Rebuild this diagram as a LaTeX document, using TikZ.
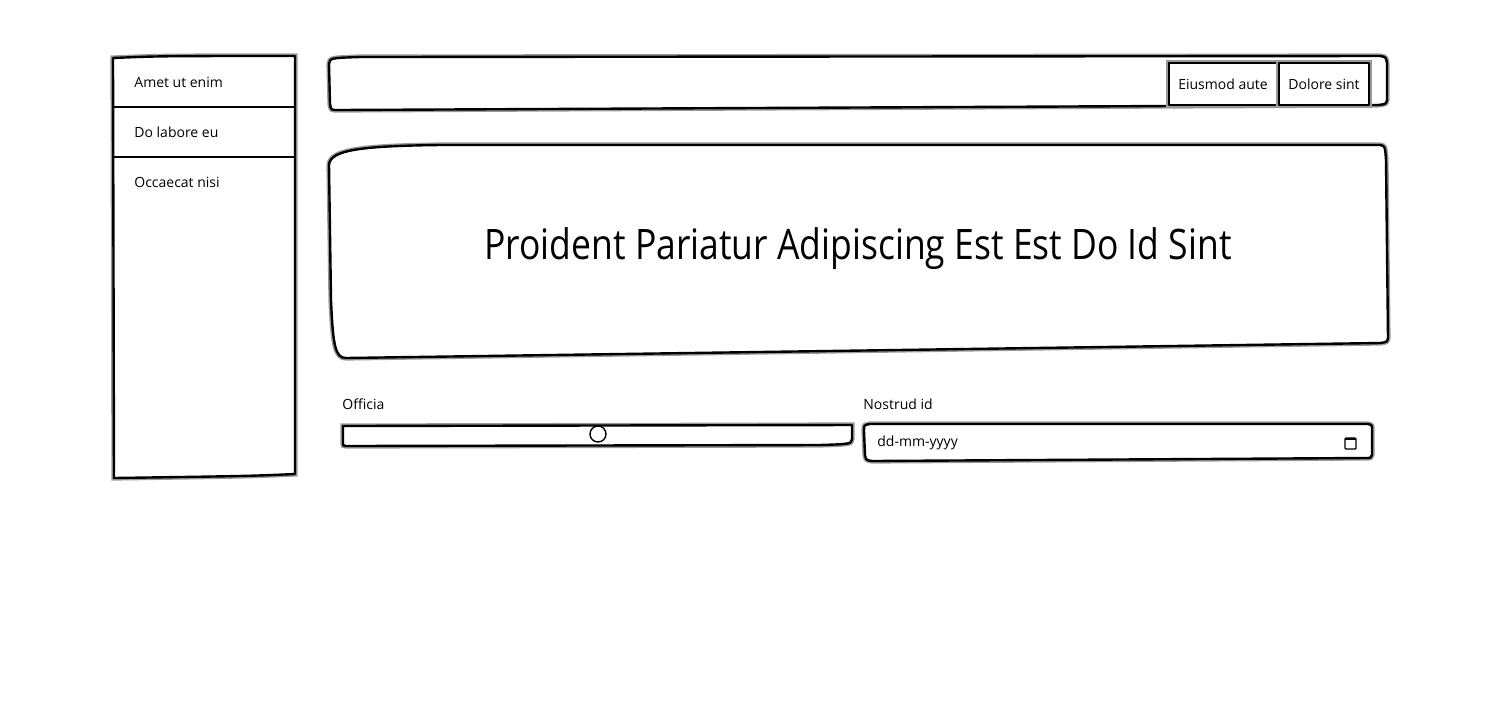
\documentclass[tikz,border=0pt]{standalone}
\usepackage{graphicx}
\usepackage{fontspec}
\setmainfont{Open Sans}
\usetikzlibrary{positioning}
\tikzset{
	sketch/.style={line width=1.2pt, draw=black, fill=white, line join=round, preaction={draw=black!40, line width=2.6pt}},
	divider/.style={line width=1.2pt, draw=black},
	itemtext/.style={anchor=west, inner sep=0pt, font=\fontsize{7}{8}\selectfont},
	knob/.style={circle, draw, line width=0.7pt, fill=white, minimum size=8pt, inner sep=0pt},
}

\begin{document}
\begin{tikzpicture}[x=0.5pt, y=-0.5pt]
			\useasboundingbox (0,0) rectangle (1500,720);
			\draw[sketch] (113,58) .. controls (160,56) .. (295,56) -- (295,474) .. controls (250,476) .. (114,478) -- cycle;
			\draw[divider] (113,107) -- (295,107);
			\draw[divider] (113,157) -- (295,157);
			\node[itemtext] (navA) at (134,82)  {Amet ut enim};
			\node[itemtext] (navB) at (134,132) {Do labore eu};
			\node[itemtext] (navC) at (134,182) {Occaecat nisi};
			\draw[sketch] (329,64) .. controls (330,58) .. (360,57) -- (1380,56) .. controls (1386,57) .. (1387,64) -- (1387,100) .. controls (1386,104) .. (1378,105) -- (338,110) .. controls (331,110) .. (330,104) -- cycle;
			\draw[sketch] (1169,63) rectangle (1277,105) node[midway] (btnA) {\fontsize{7}{8}\selectfont Eiusmod aute};
			\draw[sketch] (1279,63) rectangle (1369,105) node[midway] (btnB) {\fontsize{7}{8}\selectfont Dolore sint};
			\draw[sketch] (329,165) .. controls (330,150) and (360,146) .. (440,145) -- (1380,145) .. controls (1385,146) .. (1386,160) -- (1388,338) .. controls (1387,342) .. (1380,343) -- (346,358) .. controls (335,358) and (333,345) .. (331,300) -- cycle;
			\node (title) at (858,249) {\fontsize{21}{24}\selectfont\scalebox{0.845}[1]{Proident Pariatur Adipiscing Est Est Do Id Sint}};
			\node[itemtext] (lblA) at (342,404) {Officia};
			\node[itemtext] (lblB) at (863,404) {Nostrud id};
			\draw[sketch] (343,426) -- (852,425) -- (852,439) .. controls (851,444) .. (820,445) -- (346,446) .. controls (343,446) .. (343,441) -- cycle;
			\node[knob] (handle) at (598,434) {};
			\draw[sketch] (870,424) -- (1368,424) .. controls (1372,425) .. (1372,430) -- (1372,455) .. controls (1371,458) .. (1365,458) -- (872,461) .. controls (866,460) .. (865,455) -- (864,431) .. controls (864,425) .. (870,424) -- cycle;
			\node[itemtext] (dateText) at (877,443) {dd-mm-yyyy};
			\draw[line width=0.7pt, rounded corners=0.5pt] (1345,438) rectangle (1356,449);
			\draw[line width=1.4pt] (1345,439) -- (1356,439);
		\end{tikzpicture}
\end{document}
